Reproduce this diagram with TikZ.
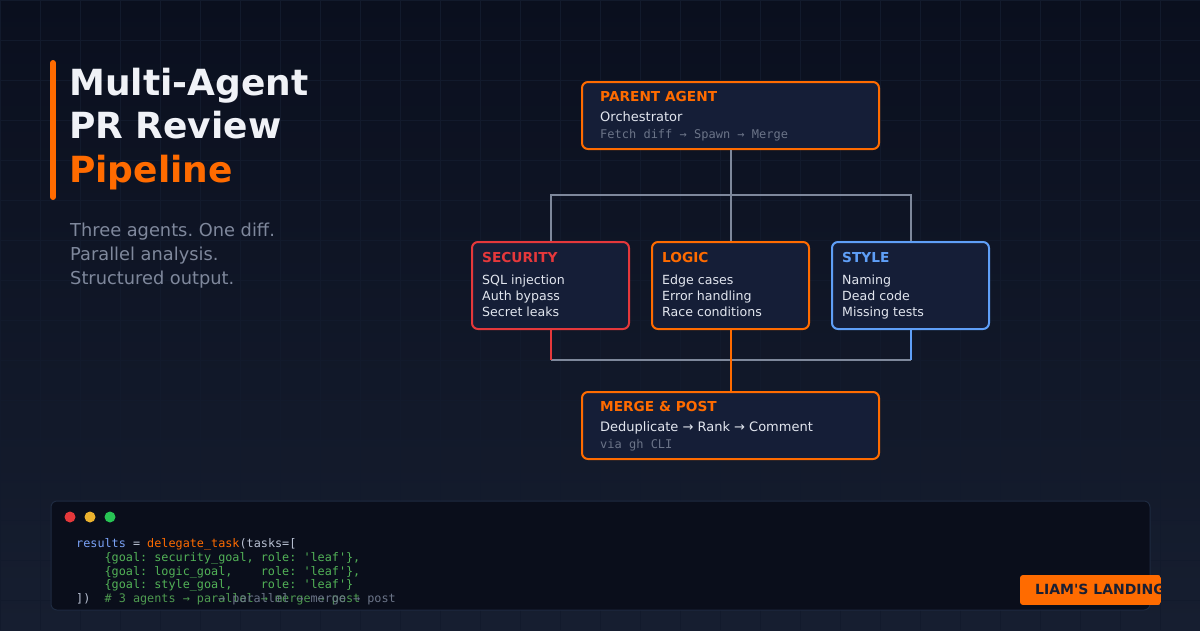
\documentclass[tikz,border=0pt]{standalone}
\usepackage{fontspec}
\setmainfont{DejaVu Sans}
\setmonofont{DejaVu Sans Mono}
\usetikzlibrary{positioning,calc}
\definecolor{bgtop}{HTML}{0A0F1E}
\definecolor{bgbot}{HTML}{161E30}
\definecolor{gridc}{HTML}{121A2C}
\definecolor{cardfill}{HTML}{151E37}
\definecolor{accent}{HTML}{FF6B00}
\definecolor{secred}{HTML}{E5383B}
\definecolor{styleblue}{HTML}{5F9FF7}
\definecolor{inkwhite}{HTML}{F0F2F7}
\definecolor{inklight}{HTML}{E2E6EF}
\definecolor{subgray}{HTML}{7F889C}
\definecolor{monogray}{HTML}{6B7488}
\definecolor{linkgray}{HTML}{7E889B}
\definecolor{panelfill}{HTML}{0A0E1B}
\definecolor{panelline}{HTML}{1E2A40}
\definecolor{codeblue}{HTML}{7AA2F7}
\definecolor{codelight}{HTML}{B8C0D2}
\definecolor{codegreen}{HTML}{52B257}
\definecolor{codedim}{HTML}{4E9A50}
\definecolor{dotyellow}{HTML}{ECB22E}
\definecolor{dotgreen}{HTML}{28C454}
\definecolor{badgeink}{HTML}{1A1F33}
\frenchspacing

\begin{document}
\begin{tikzpicture}[x=1pt, y=-1pt,
  card/.style={draw=#1, line width=2, rounded corners=6, fill=cardfill,
               minimum width=157, minimum height=87, inner sep=0},
  wide/.style={card=accent, minimum width=297, minimum height=67},
  cardtitle/.style={anchor=base west, inner sep=0, text=#1,
                    font=\bfseries\fontsize{13.7}{16}\selectfont},
  item/.style={anchor=base west, inner sep=0, text=inklight,
               font=\fontsize{12.6}{16}\selectfont},
  mono/.style={anchor=base west, inner sep=0, text=monogray,
               font=\ttfamily\fontsize{12}{14}\selectfont},
  headline/.style={anchor=base west, inner sep=0, text=#1,
                   font=\bfseries\fontsize{36}{43}\selectfont},
  tagline/.style={anchor=base west, inner sep=0, text=subgray,
                  font=\fontsize{17.8}{24}\selectfont},
  code/.style={anchor=base west, inner sep=0,
               font=\ttfamily\fontsize{11.8}{14}\selectfont},
  link/.style={line width=2, linkgray},
]
\useasboundingbox (0,0) rectangle (1200,630);

% Background and grid
\fill[top color=bgtop, bottom color=bgbot] (0,0) rectangle (1200,630);
\foreach \gx in {0,40,...,1200} \draw[gridc, line width=1] (\gx,0) -- (\gx,630);
\foreach \gy in {0,40,...,600} \draw[gridc, line width=1] (0,\gy) -- (1200,\gy);

% Title block
\draw[accent, line width=6, line cap=round] (53,63) -- (53,197);
\node[headline=inkwhite] (title1) at (69,95) {Multi-Agent};
\node[headline=inkwhite] (title2) at (69,138.5) {PR Review};
\node[headline=accent] (title3) at (69,182) {Pipeline};
\node[tagline] (tag1) at (70,236) {Three agents. One diff.};
\node[tagline] (tag2) at (70,260) {Parallel analysis.};
\node[tagline] (tag3) at (70,284) {Structured output.};

% Row 0: parent agent
\node[wide] (parent) at (730.5,115.5) {};
\node[cardtitle=accent] (parent-t) at (600,101) {PARENT AGENT};
\node[item, font=\fontsize{13}{16}\selectfont] (parent-1) at (600,121) {Orchestrator};
\node[mono] (parent-2) at (600,138) {Fetch diff → Spawn → Merge};

% Row 1: the three reviewers
\node[card=secred] (sec) at (550.5,285.5) {};
\node[card=accent] (logic) at (730.5,285.5) {};
\node[card=styleblue] (style) at (910.5,285.5) {};

\node[cardtitle=secred] (sec-t) at (482,262) {SECURITY};
\foreach \t [count=\i] in {SQL injection, Auth bypass, Secret leaks}
  \node[item] (sec-\i) at (482,268+16*\i) {\t};
\node[cardtitle=accent] (logic-t) at (662,262) {LOGIC};
\foreach \t [count=\i] in {Edge cases, Error handling, Race conditions}
  \node[item] (logic-\i) at (662,268+16*\i) {\t};
\node[cardtitle=styleblue] (style-t) at (842,262) {STYLE};
\foreach \t [count=\i] in {Naming, Dead code, Missing tests}
  \node[item] (style-\i) at (842,268+16*\i) {\t};

% Row 2: merge
\node[wide] (merge) at (730.5,425.5) {};
\node[cardtitle=accent] (merge-t) at (600,411) {MERGE \& POST};
\node[item, font=\fontsize{13}{16}\selectfont] (merge-1) at (600,431) {Deduplicate → Rank → Comment};
\node[mono] (merge-2) at (600,448) {via gh CLI};

% Fan-out
\coordinate (split) at (730.5,195);
\coordinate (join) at (730.5,360);
\draw[link] (parent.south) -- (split);
\draw[link] (sec.north) |- (split);
\draw[link] (style.north) |- (split);
\draw[link] (split) -- (logic.north);

% Fan-in
\draw[link] (sec.south |- join) -- (style.south |- join);
\draw[line width=2, secred] (sec.south) -- (sec.south |- join);
\draw[line width=2, styleblue] (style.south) -- (style.south |- join);
\draw[line width=2, accent] (logic.south) -- (merge.north);

% Code panel
\draw[panelline, fill=panelfill, line width=1, rounded corners=6] (51,501) rectangle (1150,610);
\fill[secred] (70,517) circle (5.5);
\fill[dotyellow] (90,517) circle (5.5);
\fill[dotgreen] (110,517) circle (5.5);
\node[code] (code1) at (76,547) {\textcolor{codeblue}{results} \textcolor{codelight}{=} \textcolor{accent}{delegate\_task}\textcolor{codelight}{(tasks=[}};
\node[code, text=codegreen] (code2) at (76,561) {\phantom{xxxx}\{goal: security\_goal, role: \textquotesingle leaf\textquotesingle\},};
\node[code, text=codegreen] (code3) at (76,575) {\phantom{xxxx}\{goal: logic\_goal,\phantom{xxxx}role: \textquotesingle leaf\textquotesingle\},};
\node[code, text=codegreen] (code4) at (76,588.5) {\phantom{xxxx}\{goal: style\_goal,\phantom{xxxx}role: \textquotesingle leaf\textquotesingle\}};
\node[code, text=codelight] (code5) at (76,602) {])\phantom{xx}\textcolor{codedim}{\# 3 agents → parallel → merge → post}};
\node[code, text=monogray] (code5b) at (218,602) {→ parallel → merge → post};

% Badge
\begin{scope}
  \clip[rounded corners=3] (1020,575) rectangle (1161,605);
  \fill[accent] (1020,575) rectangle (1161,605);
  \node[anchor=base west, inner sep=0, text=badgeink,
        font=\bfseries\fontsize{14}{16}\selectfont] (badge) at (1035,594.5) {LIAM\textquotesingle S LANDING};
\end{scope}

\end{tikzpicture}
\end{document}
